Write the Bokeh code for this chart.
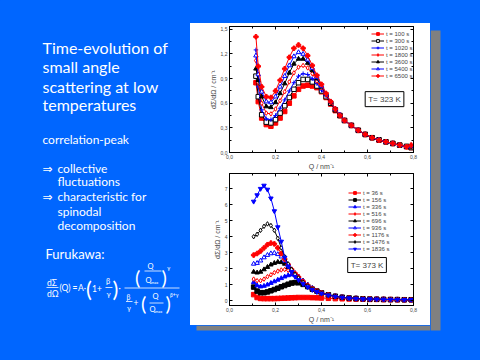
from bokeh.plotting import figure
from bokeh.models import (Range1d, Legend, LegendItem, Label, LinearAxis,
                          FixedTicker, CustomJSTickFormatter)
from bokeh.layouts import row, column
from bokeh.embed import file_html
from bokeh.resources import INLINE
from bokeh.core.properties import value

# ---------------- data: T = 323 K ----------------
q_323 = [0.115, 0.125, 0.14, 0.16, 0.18, 0.20, 0.22, 0.24, 0.26, 0.28, 0.30, 0.32,
         0.34, 0.36, 0.38, 0.40, 0.42, 0.44, 0.46, 0.48, 0.50, 0.53, 0.56, 0.59,
         0.62, 0.65, 0.68, 0.71, 0.74, 0.77, 0.79]
i323_t100 = [0.85, 0.62, 0.42, 0.34, 0.32, 0.36, 0.42, 0.50, 0.60, 0.69, 0.77, 0.81, 0.82, 0.81, 0.79, 0.74, 0.67, 0.59,
             0.51, 0.45, 0.39, 0.33, 0.27, 0.22, 0.18, 0.15, 0.13, 0.11, 0.09, 0.07, 0.06]
i323_t300 = [0.93, 0.68, 0.46, 0.37, 0.36, 0.40, 0.48, 0.57, 0.67, 0.77, 0.85, 0.89, 0.89, 0.86, 0.81, 0.75, 0.68, 0.60,
             0.52, 0.45, 0.39, 0.33, 0.27, 0.22, 0.18, 0.155, 0.13, 0.11, 0.09, 0.075, 0.06]
i323_t1020 = [1.25, 0.80, 0.52, 0.41, 0.40, 0.45, 0.54, 0.64, 0.75, 0.85, 0.93, 0.96, 0.95, 0.90, 0.84, 0.76, 0.69, 0.61,
              0.52, 0.45, 0.39, 0.33, 0.27, 0.22, 0.18, 0.15, 0.13, 0.11, 0.09, 0.07, 0.07]
i323_t1800 = [1.12, 0.85, 0.60, 0.48, 0.47, 0.53, 0.63, 0.74, 0.86, 0.97, 1.04, 1.06, 1.03, 0.96, 0.87, 0.79, 0.70, 0.61,
              0.52, 0.46, 0.39, 0.33, 0.27, 0.22, 0.18, 0.155, 0.13, 0.11, 0.09, 0.07, 0.07]
i323_t3600 = [1.02, 0.88, 0.68, 0.56, 0.55, 0.61, 0.72, 0.84, 0.97, 1.08, 1.14, 1.14, 1.09, 1.00, 0.90, 0.80, 0.71, 0.61,
              0.52, 0.45, 0.39, 0.33, 0.27, 0.22, 0.18, 0.15, 0.13, 0.11, 0.09, 0.07, 0.07]
i323_t5400 = [1.18, 0.95, 0.74, 0.62, 0.61, 0.68, 0.80, 0.93, 1.06, 1.17, 1.22, 1.20, 1.13, 1.03, 0.92, 0.81, 0.71, 0.62,
              0.53, 0.46, 0.39, 0.33, 0.27, 0.22, 0.18, 0.155, 0.13, 0.11, 0.09, 0.07, 0.08]
i323_t6500 = [1.41, 1.05, 0.80, 0.68, 0.67, 0.75, 0.88, 1.02, 1.16, 1.27, 1.31, 1.27, 1.18, 1.06, 0.94, 0.83, 0.72, 0.62,
              0.53, 0.45, 0.39, 0.33, 0.27, 0.22, 0.18, 0.15, 0.13, 0.11, 0.09, 0.07, 0.09]
labels_323 = ["t = 100 s", "t = 300 s", "t = 1020 s", "t = 1800 s", "t = 3600 s", "t = 5400 s", "t = 6500 s"]

# ---------------- data: T = 373 K ----------------
q_373 = [0.105, 0.12, 0.135, 0.15, 0.165, 0.18, 0.195, 0.21, 0.225, 0.24, 0.255, 0.27, 0.285, 0.30,
         0.32, 0.34, 0.36, 0.38, 0.40, 0.43, 0.46, 0.49, 0.52, 0.55, 0.58, 0.61, 0.64, 0.67,
         0.70, 0.73, 0.76, 0.79]
i373_t36 = [0.38, 0.2, 0.14, 0.13, 0.13, 0.13, 0.13, 0.14, 0.15, 0.16, 0.17, 0.18, 0.19, 0.2, 0.2, 0.2,
            0.19, 0.18, 0.17, 0.15, 0.13, 0.12, 0.11, 0.1, 0.09, 0.08, 0.08, 0.07, 0.07, 0.06, 0.06, 0.06]
i373_t156 = [0.85, 0.6, 0.5, 0.5, 0.55, 0.62, 0.7, 0.78, 0.87, 0.95, 1.03, 1.1, 1.13, 1.12, 1.02, 0.88,
             0.72, 0.6, 0.49, 0.37, 0.28, 0.22, 0.17, 0.14, 0.12, 0.1, 0.09, 0.08, 0.07, 0.07, 0.06, 0.06]
i373_t336 = [1.15, 0.95, 0.88, 0.92, 1.0, 1.1, 1.2, 1.3, 1.4, 1.5, 1.58, 1.63, 1.6, 1.5, 1.25, 1.0,
             0.78, 0.62, 0.5, 0.37, 0.28, 0.22, 0.17, 0.14, 0.12, 0.1, 0.09, 0.08, 0.07, 0.07, 0.06, 0.06]
i373_t516 = [1.35, 1.25, 1.25, 1.35, 1.5, 1.62, 1.75, 1.85, 1.92, 1.95, 1.9, 1.8, 1.65, 1.48, 1.22, 0.97,
             0.77, 0.61, 0.49, 0.37, 0.28, 0.22, 0.17, 0.14, 0.12, 0.1, 0.09, 0.08, 0.07, 0.07, 0.06, 0.06]
i373_t696 = [1.8, 1.75, 1.8, 1.95, 2.1, 2.25, 2.35, 2.42, 2.4, 2.3, 2.1, 1.9, 1.7, 1.5, 1.22, 0.97,
             0.77, 0.61, 0.49, 0.37, 0.28, 0.22, 0.17, 0.14, 0.12, 0.1, 0.09, 0.08, 0.07, 0.07, 0.06, 0.06]
i373_t936 = [2.3, 2.35, 2.5, 2.7, 2.85, 2.95, 2.98, 2.9, 2.75, 2.5, 2.2, 1.95, 1.72, 1.5, 1.22, 0.97,
             0.77, 0.61, 0.49, 0.37, 0.28, 0.22, 0.17, 0.14, 0.12, 0.1, 0.09, 0.08, 0.07, 0.07, 0.06, 0.06]
i373_t1176 = [2.85, 2.95, 3.1, 3.3, 3.5, 3.6, 3.55, 3.3, 2.95, 2.6, 2.25, 1.95, 1.7, 1.48, 1.2, 0.95,
              0.75, 0.6, 0.48, 0.36, 0.27, 0.21, 0.17, 0.14, 0.12, 0.1, 0.09, 0.08, 0.07, 0.07, 0.06, 0.06]
i373_t1476 = [4.0, 4.15, 4.4, 4.65, 4.8, 4.7, 4.4, 3.9, 3.3, 2.75, 2.3, 1.95, 1.65, 1.42, 1.15, 0.92,
              0.73, 0.58, 0.47, 0.35, 0.27, 0.21, 0.17, 0.14, 0.12, 0.1, 0.09, 0.08, 0.07, 0.07, 0.06, 0.06]
i373_t1836 = [6.2, 6.6, 7.0, 7.2, 6.95, 6.4, 5.6, 4.6, 3.7, 2.7, 2.15, 1.8, 1.5, 1.3, 1.05, 0.85,
              0.68, 0.55, 0.45, 0.34, 0.26, 0.2, 0.16, 0.13, 0.11, 0.1, 0.09, 0.08, 0.07, 0.07, 0.06, 0.06]
labels_373 = ["t = 36 s", "t = 156 s", "t = 336 s", "t = 516 s", "t = 696 s", "t = 936 s",
              "t = 1176 s", "t = 1476 s", "t = 1836 s"]

x_ticks = [0.0, 0.2, 0.4, 0.6, 0.8]
x_minor = [0.1, 0.3, 0.5, 0.7]
y323_ticks = [0.0, 0.3, 0.6, 0.9, 1.2, 1.5]
y323_minor = [0.15, 0.45, 0.75, 1.05, 1.35]
y373_ticks = [0, 1, 2, 3, 4, 5, 6, 7]

BLUE = "#0066FF"
GRAY = "#808080"
RED = "#FF0000"
BLK = "#000000"
BLU = "#0000FF"
PF = "Liberation Sans"

comma_fmt = CustomJSTickFormatter(code="return tick.toFixed(1).replace('.', ',');")


def deco(w, h):
    f = figure(width=w, height=h, x_range=Range1d(0, w), y_range=Range1d(h, 0),
               output_backend="svg", toolbar_location=None,
               x_axis_location=None, y_axis_location=None, min_border=0,
               min_border_left=0, min_border_right=0, min_border_top=0, min_border_bottom=0)
    f.grid.visible = False
    f.outline_line_color = None
    f.background_fill_color = BLUE
    f.border_fill_color = BLUE
    f.quad(left=-5, right=w + 5, top=-5, bottom=h + 5, fill_color=BLUE, line_color=None)
    return f


def make_plot(w, h, mb, yr, yticks, yminor, yfmt):
    p = figure(width=w, height=h, x_range=Range1d(0, 0.8), y_range=Range1d(*yr),
               output_backend="svg", toolbar_location=None,
               min_border_left=mb[0], min_border_right=mb[1],
               min_border_top=mb[2], min_border_bottom=mb[3])
    p.grid.visible = False
    p.background_fill_color = "white"
    p.border_fill_color = "white"
    p.outline_line_color = "black"
    p.outline_line_width = 1
    p.xaxis.ticker = FixedTicker(ticks=x_ticks, minor_ticks=x_minor)
    p.yaxis.ticker = FixedTicker(ticks=yticks, minor_ticks=yminor)
    p.xaxis.formatter = comma_fmt
    if yfmt is not None:
        p.yaxis.formatter = yfmt
    for ax in (p.xaxis[0], p.yaxis[0]):
        ax.major_tick_in = 3
        ax.major_tick_out = 0
        ax.minor_tick_in = 2
        ax.minor_tick_out = 0
        ax.major_label_text_font_size = "5px"
        ax.major_label_text_font = PF
        ax.major_label_standoff = 2
        ax.axis_label_text_font_size = "7px"
        ax.axis_label_text_font = PF
        ax.axis_label_text_font_style = "normal"
        ax.axis_label_standoff = 1
        ax.axis_line_color = "black"
    p.xaxis.axis_label = "Q / nm\u207b\u00b9"
    p.yaxis.axis_label = "d\u03a3/d\u03a9 / cm\u207b\u00b9"
    for loc, tk in (("right", FixedTicker(ticks=yticks, minor_ticks=yminor)),
                    ("above", FixedTicker(ticks=x_ticks, minor_ticks=x_minor))):
        ax = LinearAxis(ticker=tk, formatter=CustomJSTickFormatter(code="return '';"),
                        major_label_text_font_size="0px", major_label_standoff=0,
                        major_tick_in=3, major_tick_out=0, minor_tick_in=2, minor_tick_out=0)
        p.add_layout(ax, loc)
    return p


def add_series(p, q, vals, color, marker, fill):
    rl = p.line(q, vals, line_color=color, line_width=1)
    rs = p.scatter(q, vals, marker=marker, size=4.5, line_color=color, fill_color=fill, line_width=1)
    return [rl, rs]


# ---------------- top plot ----------------
top = make_plot(240, 149, (35, 17, 3, 15), (0, 1.535), y323_ticks, y323_minor, comma_fmt)
styles_323 = [
    (i323_t100, RED, "square", RED),
    (i323_t300, BLK, "square", "white"),
    (i323_t1020, BLU, "cross", BLU),
    (i323_t1800, RED, "diamond", "white"),
    (i323_t3600, BLK, "triangle", BLK),
    (i323_t5400, BLU, "triangle", "white"),
    (i323_t6500, RED, "plus", RED),
]
items = []
for (vals, c, m, f), lab in zip(styles_323, labels_323):
    items.append(LegendItem(label=lab, renderers=add_series(top, q_323, vals, c, m, f)))
leg = Legend(items=items, location=(140, 71), margin=0, padding=2, spacing=0,
             label_height=7, glyph_height=7, glyph_width=13, label_standoff=2,
             label_text_font_size="6px", label_text_font=PF,
             background_fill_alpha=0, border_line_alpha=0)
top.add_layout(leg)
top.add_layout(Label(x=0.674, y=0.65, text="T= 323 K", text_align="center", text_baseline="middle",
                     text_font_size="8px", text_font=PF, border_line_color="black", border_line_width=1,
                     background_fill_color="white", padding=3))

# ---------------- bottom plot ----------------
bot = make_plot(240, 153, (39, 15, 1, 20), (-0.3, 7.95), y373_ticks, [], None)
styles_373 = [
    (i373_t36, RED, "square", RED),
    (i373_t156, BLK, "square", BLK),
    (i373_t336, BLU, "triangle", BLU),
    (i373_t516, RED, "diamond", "white"),
    (i373_t696, BLK, "triangle", BLK),
    (i373_t936, BLU, "triangle", "white"),
    (i373_t1176, RED, "plus", RED),
    (i373_t1476, BLK, "diamond", "white"),
    (i373_t1836, BLU, "inverted_triangle", BLU),
]
items = []
for (vals, c, m, f), lab in zip(styles_373, labels_373):
    items.append(LegendItem(label=lab, renderers=add_series(bot, q_373, vals, c, m, f)))
leg2 = Legend(items=items, location=(117, 51), margin=0, padding=2, spacing=0,
              label_height=7, glyph_height=7, glyph_width=13, label_standoff=2,
              label_text_font_size="6px", label_text_font=PF,
              background_fill_alpha=0, border_line_alpha=0)
bot.add_layout(leg2)
bot.add_layout(Label(x=0.598, y=2.23, text="T= 373 K", text_align="center", text_baseline="middle",
                     text_font_size="8px", text_font=PF, border_line_color="black", border_line_width=1,
                     background_fill_color="white", padding=3))

# ---------------- decorative strips (slide background, panel shadow) ----------------
top_strip = deco(240, 23)
bot_strip = deco(240, 35)
bot_strip.quad(left=6, right=240, top=0, bottom=5, fill_color=GRAY, line_color=None)
right_strip = deco(50, 360)
right_strip.quad(left=0, right=10, top=30, bottom=330, fill_color=GRAY, line_color=None)

# ---------------- left text ----------------
left = deco(190, 360)
TF = "Lato"


def txt(x, y, s, size, align="left", baseline="alphabetic", font=TF, style="normal"):
    left.text(x=[x], y=[y], text=[s], text_font=value(font), text_font_size=size,
              text_color="white", text_align=align, text_baseline=baseline, text_font_style=style)


def hline(x0, x1, y, w=0.8):
    left.segment(x0=[x0], y0=[y], x1=[x1], y1=[y], line_color="white", line_width=w)


for i, s in enumerate(["Time-evolution of", "small angle", "scattering at low", "temperatures"]):
    txt(42, [47.3, 66, 85.5, 104][i], s, "16px")
txt(42, 139, "correlation-peak", "12px")
txt(42, 168.3, "\u21d2", "12px", font="DejaVu Sans")
txt(57, 168.3, "collective", "12px")
txt(57, 181, "fluctuations", "12px")
txt(42, 196, "\u21d2", "12px", font="DejaVu Sans")
txt(57, 196, "characteristic for", "12px")
txt(57, 210.5, "spinodal", "12px")
txt(57, 225, "decomposition", "12px")
txt(45, 253.5, "Furukawa:", "13px")

# formula
FS = "8.5px"
txt(46.5, 282, "d\u03a3", FS, baseline="middle")
hline(46, 58, 287)
txt(46.5, 293, "d\u03a9", FS, baseline="middle")
txt(59, 287.5, "(Q)", FS, baseline="middle")
txt(72, 287.5, "=", FS, baseline="middle", style="bold")
txt(77.5, 287.5, "A\u00b7", FS, baseline="middle")
txt(85.5, 288, "(", "22px", baseline="middle")
txt(91.5, 288, "1+", FS, baseline="middle")
txt(105.5, 281, "\u03b2", "7.5px", baseline="middle")
hline(105, 112, 287)
txt(106, 293.5, "\u03b3", "7.5px", baseline="middle")
txt(112, 288, ")", "22px", baseline="middle")
txt(118, 287.5, "\u00b7", FS, baseline="middle")
hline(124, 179, 287.5)
# numerator
txt(134.5, 276, "(", "20px", baseline="middle")
txt(150, 265.5, "Q", "7.5px", align="center", baseline="middle")
hline(144, 161, 270.5)
txt(145, 279.5, "Q", "7.5px", baseline="middle")
txt(150.5, 281.5, "max", "4px", baseline="middle")
txt(161, 276, ")", "20px", baseline="middle")
txt(166.5, 266.5, "\u03b3", "6px", baseline="middle")
# denominator
txt(126, 296, "\u03b2", "7px", baseline="middle")
hline(125.5, 132, 301)
txt(126.5, 307.5, "\u03b3", "7px", baseline="middle")
txt(133, 302, "+", FS, baseline="middle")
txt(140.5, 302.5, "(", "20px", baseline="middle")
txt(155, 296, "Q", "7.5px", align="center", baseline="middle")
hline(149, 163, 302.5)
txt(149, 308.5, "Q", "7.5px", baseline="middle")
txt(154.5, 310.5, "max", "4px", baseline="middle")
txt(165, 302.5, ")", "20px", baseline="middle")
txt(169.5, 294, "\u03b2+\u03b3", "5px", baseline="middle")

panel = column(top, bot, spacing=0, styles={"background-color": "white"})
mid = column(top_strip, panel, bot_strip, spacing=0, styles={"background-color": BLUE})
layout = row(left, mid, right_strip, spacing=0, styles={"background-color": BLUE})

html = file_html(layout, INLINE, title="SANS time evolution")
html = html.replace("<body>", '<body style="background-color:#0066FF;">', 1)
open("out.html", "w").write(html)
